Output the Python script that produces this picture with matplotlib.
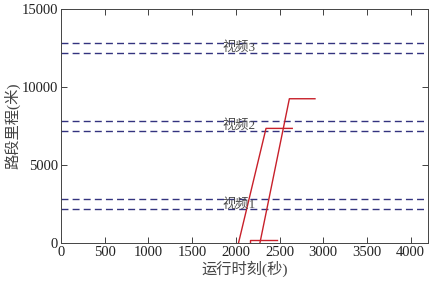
import matplotlib
matplotlib.use("Agg")
import matplotlib.pyplot as plt

plt.rcParams['font.family'] = ['Liberation Serif', 'Noto Sans CJK SC']

# video zones (lower, upper bound in metres)
video_names = ["视频1", "视频2", "视频3"]
video_low = [2200, 7200, 12200]
video_high = [2800, 7800, 12800]

# trajectories (time s, distance m)
traj1_t = [2030, 2345, 2645]
traj1_d = [0, 7350, 7350]
traj2_t = [2275, 2612, 2905]
traj2_d = [0, 9250, 9250]
traj3_t = [2165, 2165, 2465]
traj3_d = [0, 200, 200]

fig = plt.figure(figsize=(4.34, 2.82), dpi=100)
ax = fig.add_axes([0.1406, 0.138, 0.846, 0.830])

for lo, hi, name in zip(video_low, video_high, video_names):
    ax.axhline(lo, color='#33337f', linestyle=(0, (5, 3)), linewidth=1.0)
    ax.axhline(hi, color='#33337f', linestyle=(0, (5, 3)), linewidth=1.0)
    ax.text(2040, (lo + hi) / 2, name, ha='center', va='center',
            fontsize=9.5, color='#4a4a4a')

red = '#c8202a'
ax.plot(traj1_t, traj1_d, color=red, linewidth=1.0)
ax.plot(traj2_t, traj2_d, color=red, linewidth=1.0)
ax.plot(traj3_t, traj3_d, color=red, linewidth=1.0)

ax.set_xlim(0, 4200)
ax.set_ylim(0, 15000)
ax.set_xticks(range(0, 4001, 500))
ax.set_yticks([0, 5000, 10000, 15000])
ax.tick_params(direction='in', top=True, right=True, labelsize=10.5,
               length=4, width=0.6, colors='#222222', pad=2)
for s in ax.spines.values():
    s.set_linewidth(0.7)
    s.set_color('#444444')

ax.set_xlabel("运行时刻(秒)", fontsize=11, color='#444444', labelpad=1)
ax.set_ylabel("路段里程(米)", fontsize=11, color='#444444', labelpad=1)

fig.savefig("out.png", dpi=100)
